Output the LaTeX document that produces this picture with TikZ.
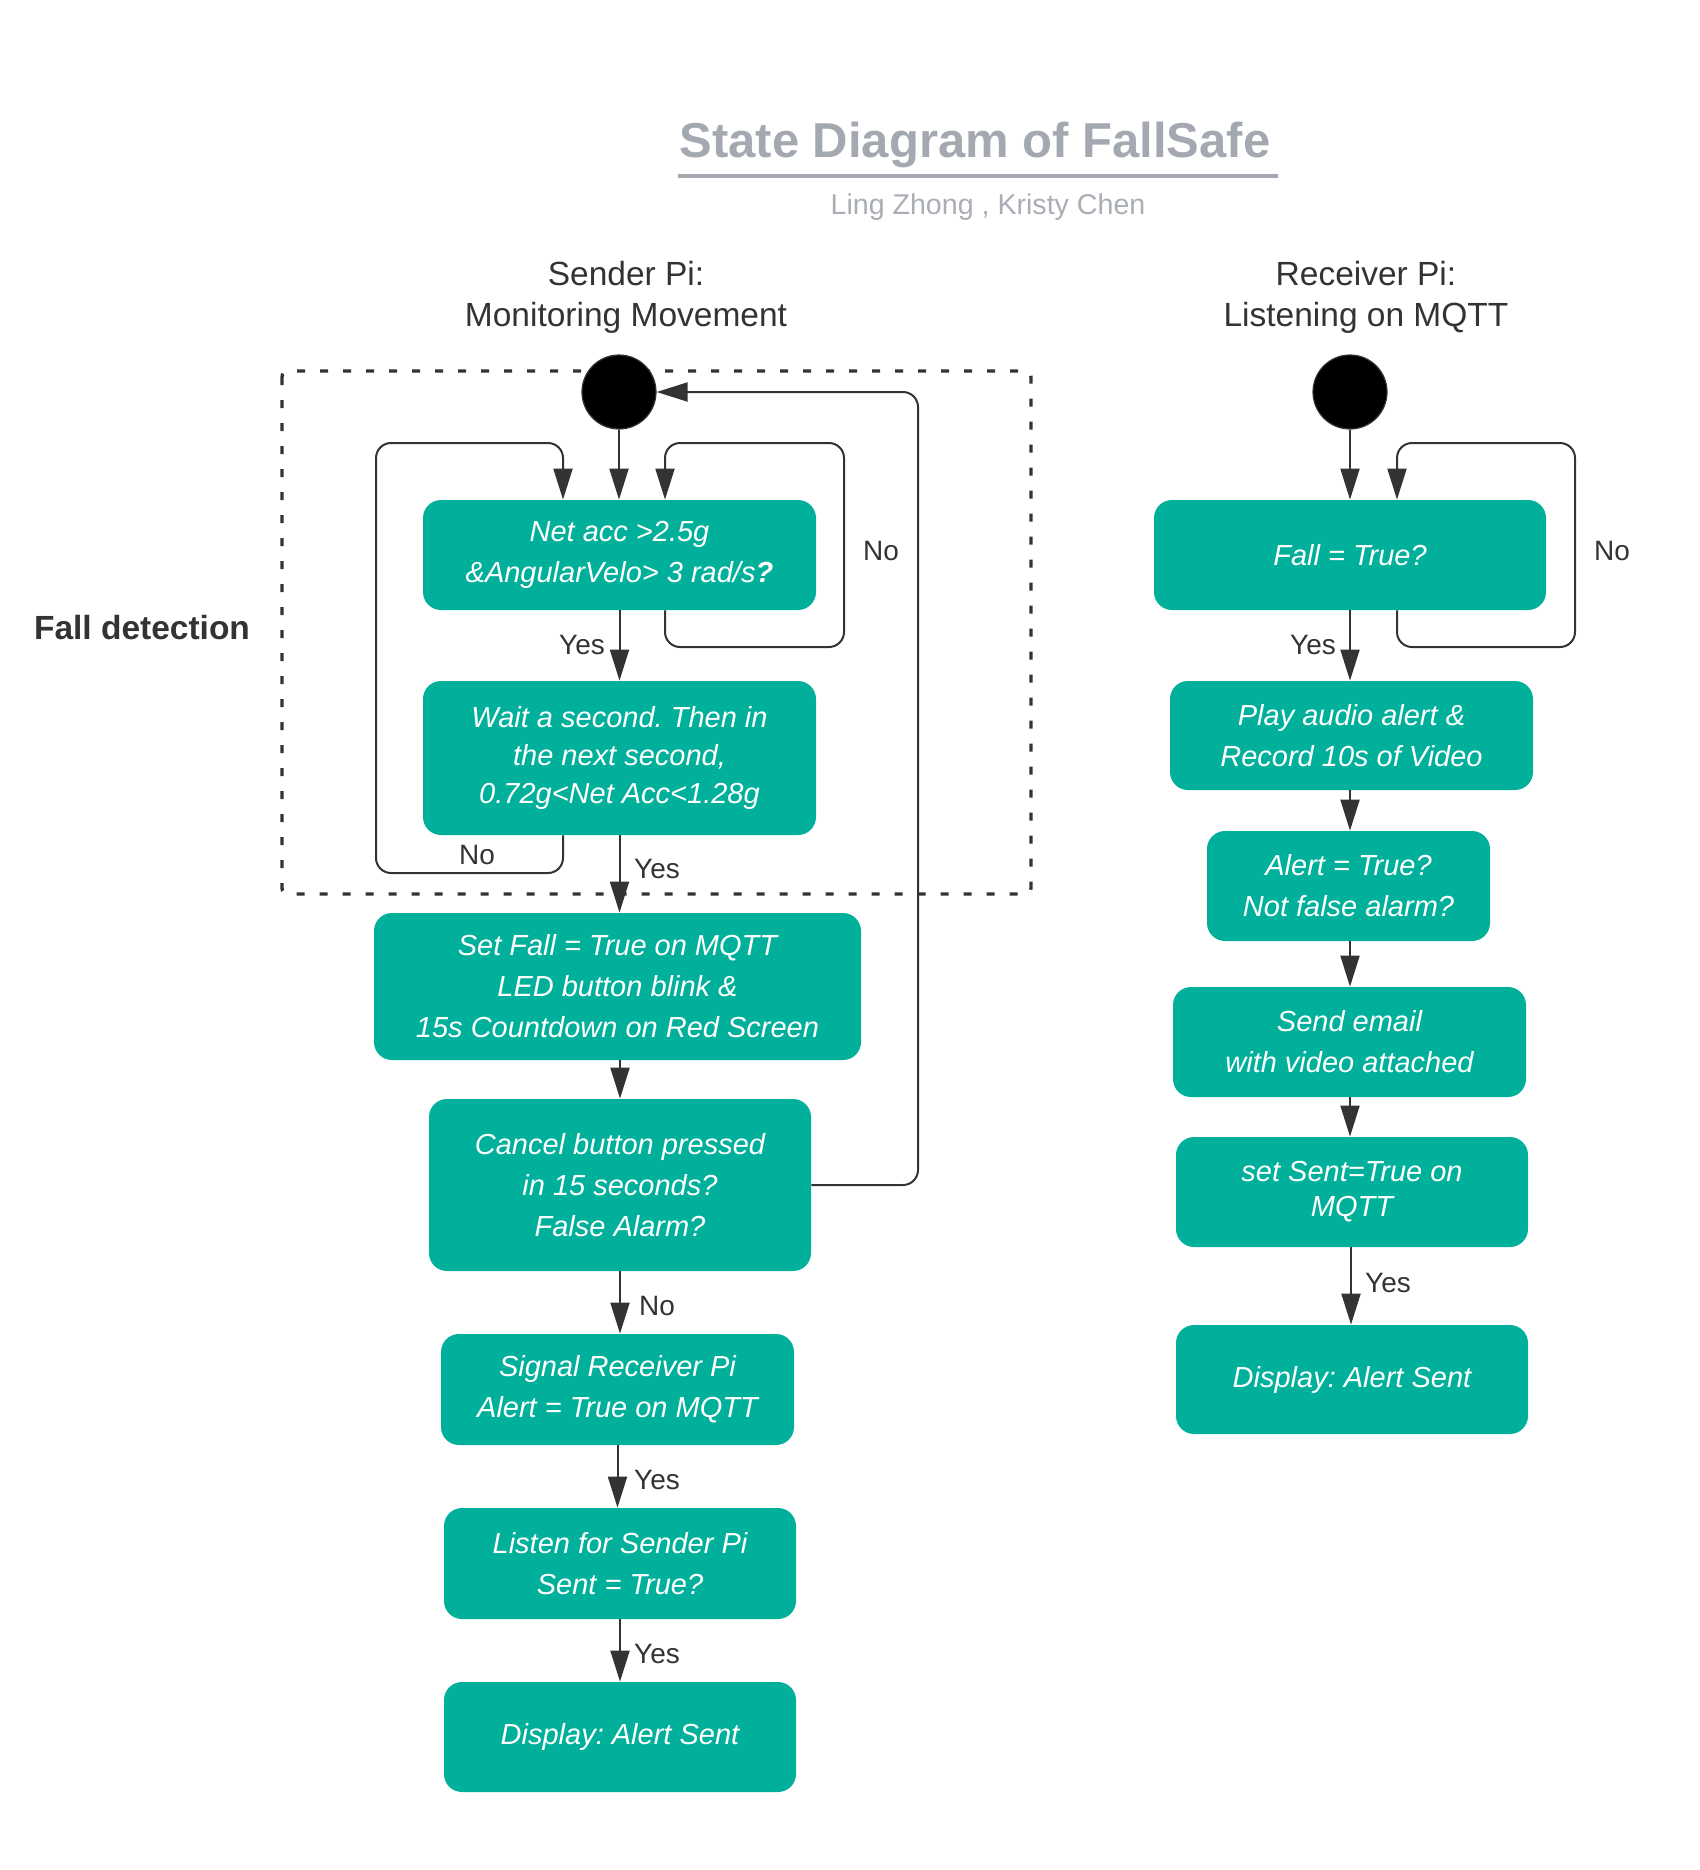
\documentclass[tikz,border=0pt]{standalone}
\usepackage{fontspec}
\setmainfont{Liberation Sans}
\usetikzlibrary{arrows.meta,calc}
\definecolor{teal1}{HTML}{00B09B}
\definecolor{ink}{HTML}{333333}
\definecolor{titlegray}{HTML}{A4A9B1}
\definecolor{subgray}{HTML}{A9AEB5}
\frenchspacing
\begin{document}
\begin{tikzpicture}[x=0.5pt,y=-0.5pt,
  stbox/.style={rectangle, rounded corners=9pt, fill=teal1, text=white, align=center, inner sep=0pt,
    font=\fontsize{14.5}{20.5}\selectfont\itshape},
  conn/.style={draw=ink, line width=1pt, -{Triangle[length=15.5pt,width=9.5pt]}},
  loopline/.style={conn, rounded corners=7.5pt},
  lbl/.style={text=ink, font=\fontsize{14}{17}\selectfont, inner sep=0pt},
  heading/.style={text=ink, align=center, font=\fontsize{16.75}{20.25}\selectfont, inner sep=0pt},
  startdot/.style={circle, fill=black, draw=ink, line width=0.6pt, minimum size=37pt, inner sep=0pt},
  groupbox/.style={draw=ink, line width=1.7pt, dash pattern=on 4pt off 7.5pt, rounded corners=3pt}
]
\useasboundingbox (0,0) rectangle (1699,1870);

% title
\node[anchor=base, text=titlegray, inner sep=0pt, font=\fontsize{24.5}{28}\selectfont\bfseries] (title) at (975,157) {State Diagram of FallSafe};
\draw[titlegray, line width=1.75pt] (678,176) -- (1278,176);
\node[anchor=base, text=subgray, inner sep=0pt, font=\fontsize{14.3}{17}\selectfont] (sub) at (988,214) {Ling Zhong , Kristy Chen};

% headings
\node[heading] (hs) at (626,297.5) {Sender Pi:\\Monitoring Movement};
\node[heading] (hr) at (1366,297.5) {Receiver Pi:\\Listening on MQTT};
\node[heading, font=\fontsize{16.75}{20.25}\selectfont\bfseries] (fd) at (142,628) {Fall detection};

% group box
\draw[groupbox] (282,371) rectangle (1031,894);

% sender column
\node[startdot] (c1) at (619,392) {};
\node[stbox, minimum width=196.5pt, minimum height=55pt] (b1) at (619.5,555) {Net acc >2.5g\\\&AngularVelo> 3 rad/s\textbf{?}};
\node[stbox, minimum width=196.5pt, minimum height=77pt, font=\fontsize{14.5}{19}\selectfont\itshape] (b2) at (619.5,758) {Wait a second. Then in\\the next second,\\0.72g<Net Acc<1.28g};
\node[stbox, minimum width=243.5pt, minimum height=73.5pt] (b3) at (617.5,986.5) {Set Fall = True on MQTT\\LED button blink \&\\15s Countdown on Red Screen};
\node[stbox, minimum width=191pt, minimum height=86pt] (b4) at (620,1185) {Cancel button pressed\\in 15 seconds?\\False Alarm?};
\node[stbox, minimum width=176.5pt, minimum height=55.5pt] (b5) at (617.5,1389.5) {Signal Receiver Pi\\Alert = True on MQTT};
\node[stbox, minimum width=176pt, minimum height=55.5pt] (b6) at (620,1563.5) {Listen for Sender Pi\\Sent = True?};
\node[stbox, minimum width=176pt, minimum height=55pt] (b7) at (620,1737) {Display: Alert Sent};

\draw[conn] (c1.south) -- (c1.south |- b1.north);
\draw[loopline] ($(b1.south)+(45.5,0)$) |- (844,647) |- (665,443) -- ($(b1.north)+(45.5,0)$);
\draw[conn] (b1.south) -- (b1.south |- b2.north);
\draw[loopline] ($(b2.south)+(-56.5,0)$) |- (376,873) |- (563,443) -- ($(b1.north)+(-56.5,0)$);
\draw[conn] (b2.south) -- (b2.south |- b3.north);
\draw[conn] (b3.south -| b4.north) -- (b4.north);
\draw[loopline] (b4.east) -| (918,392) -- (c1.east);
\draw[conn] (b4.south) -- (b4.south |- b5.north);
\draw[conn] (b5.south) -- (b5.south |- b6.north);
\draw[conn] (b6.south) -- (b6.south |- b7.north);

\node[lbl] (l1) at (881,551) {No};
\node[lbl] (l2) at (582,645) {Yes};
\node[lbl] (l3) at (477,855) {No};
\node[lbl] (l4) at (657,869) {Yes};
\node[lbl] (l5) at (657,1306) {No};
\node[lbl] (l6) at (657,1480) {Yes};
\node[lbl] (l7) at (657,1654) {Yes};

% receiver column
\node[startdot] (c2) at (1350,392) {};
\node[stbox, minimum width=196pt, minimum height=55pt] (r1) at (1350,555) {Fall = True?};
\node[stbox, minimum width=181.5pt, minimum height=54.5pt] (r2) at (1351.5,735.5) {Play audio alert \&\\Record 10s of Video};
\node[stbox, minimum width=141.5pt, minimum height=55pt] (r3) at (1348.5,886) {Alert = True?\\Not false alarm?};
\node[stbox, minimum width=176.5pt, minimum height=55pt] (r4) at (1349.5,1042) {Send email\\with video attached};
\node[stbox, minimum width=176pt, minimum height=55pt, font=\fontsize{14.5}{17.5}\selectfont\itshape] (r5) at (1352,1192) {set Sent=True on\\MQTT};
\node[stbox, minimum width=176pt, minimum height=54.5pt] (r6) at (1352,1379.5) {Display: Alert Sent};

\draw[conn] (c2.south) -- (c2.south |- r1.north);
\draw[loopline] ($(r1.south)+(47,0)$) |- (1575,647) |- (1397,443) -- ($(r1.north)+(47,0)$);
\draw[conn] (r1.south) -- (r1.south |- r2.north);
\draw[conn] (r1.south |- r2.south) -- (r1.south |- r3.north);
\draw[conn] (r1.south |- r3.south) -- (r1.south |- r4.north);
\draw[conn] (r1.south |- r4.south) -- (r1.south |- r5.north);
\draw[conn] (r5.south -| 1351,0) -- (r6.north -| 1351,0);

\node[lbl] (m1) at (1612,551) {No};
\node[lbl] (m2) at (1313,645) {Yes};
\node[lbl] (m3) at (1388,1283) {Yes};
\end{tikzpicture}
\end{document}
